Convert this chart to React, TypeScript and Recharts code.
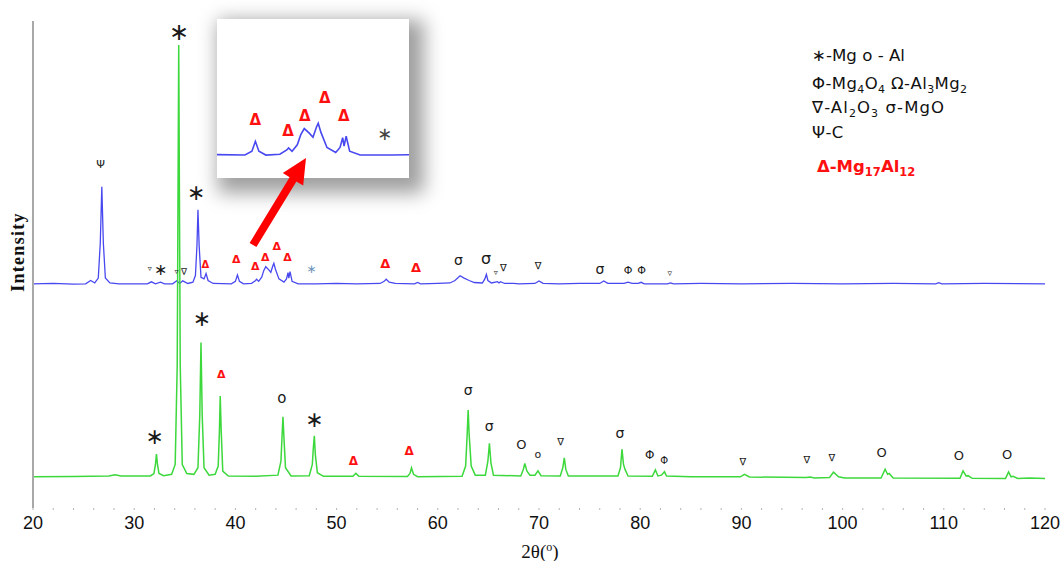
import React from 'react';
import { ComposedChart, Line, Scatter, XAxis, YAxis } from 'recharts';

// 2θ / intensity pairs (blue trace is offset upward)
const blueTrace: [number, number][] = [
  [20, 13.0], [22, 13.02], [24, 12.98], [25.2, 13.0], [25.7, 13.2], [26.1, 13.05], [26.45, 13.35],
  [26.65, 15.5], [26.8, 18.9], [26.95, 15.5], [27.15, 13.35], [27.6, 13.05], [28.5, 13.0], [30, 13.0],
  [31.3, 13.0], [31.7, 13.12], [32.1, 13.0], [32.6, 13.1], [33.0, 13.0], [33.8, 13.0], [34.2, 13.18],
  [34.5, 13.02], [34.8, 13.18], [35.3, 13.02], [35.8, 13.1], [36.05, 13.5], [36.2, 15.3], [36.3, 17.5],
  [36.42, 15.3], [36.6, 13.4], [36.9, 13.3], [37.1, 13.62], [37.3, 13.2], [37.8, 13.02], [39.6, 13.0],
  [40.0, 13.15], [40.2, 13.54], [40.4, 13.15], [40.8, 13.0], [41.6, 13.03], [42.0, 13.2], [42.1, 13.28],
  [42.3, 13.15], [42.6, 13.4], [42.8, 13.8], [43.0, 14.04], [43.3, 13.85], [43.5, 13.7], [43.7, 14.1],
  [43.8, 14.25], [43.95, 13.9], [44.3, 13.3], [44.8, 13.1], [45.05, 13.3], [45.2, 13.68], [45.28, 13.35],
  [45.4, 13.74], [45.6, 13.15], [46.2, 13.0], [48, 13.0], [50, 13.02], [52, 13.0], [54.3, 13.02],
  [54.7, 13.15], [54.9, 13.28], [55.2, 13.1], [55.8, 13.02], [57.7, 13.0], [58.0, 13.08], [58.3, 13.0],
  [60, 13.02], [61.2, 13.05], [61.7, 13.2], [62.2, 13.49], [62.6, 13.35], [63.1, 13.2], [63.6, 13.08],
  [64.4, 13.05], [64.65, 13.3], [64.8, 13.58], [64.95, 13.2], [65.3, 13.05], [65.9, 13.13], [66.05, 13.05],
  [66.2, 13.13], [66.6, 13.02], [67.5, 13.03], [68, 13.0], [69.6, 13.02], [70.0, 13.17], [70.4, 13.03],
  [72, 13.0], [74, 13.02], [76.0, 13.02], [76.4, 13.17], [76.8, 13.03], [78.4, 13.03], [78.8, 13.1],
  [79.2, 13.03], [79.8, 13.02], [80.1, 13.09], [80.4, 13.0], [82.7, 13.0], [83.0, 13.06], [83.3, 13.0],
  [86, 13.02], [90, 13.0], [95, 13.02], [100, 13.0], [105, 13.02], [109.2, 13.0], [109.5, 13.07],
  [109.8, 13.0], [114, 13.02], [120, 13.0],
];

const greenTrace: [number, number][] = [
  [20, 1.25], [24, 1.27], [27.5, 1.3], [28.1, 1.38], [28.7, 1.3], [31.6, 1.3], [31.95, 1.45], [32.1, 2.0],
  [32.2, 2.64], [32.3, 2.0], [32.45, 1.45], [32.9, 1.32], [33.7, 1.4], [34.05, 2.0], [34.25, 8.0],
  [34.4, 27.54], [34.55, 8.0], [34.75, 2.0], [35.2, 1.45], [35.9, 1.4], [36.3, 1.8], [36.48, 5.0],
  [36.6, 9.42], [36.72, 5.0], [36.9, 1.8], [37.4, 1.35], [38.0, 1.4], [38.3, 1.9], [38.42, 4.0],
  [38.5, 6.17], [38.6, 4.0], [38.75, 1.6], [39.3, 1.3], [42, 1.28], [44.2, 1.35], [44.5, 2.2],
  [44.6, 3.6], [44.7, 4.91], [44.8, 3.6], [44.95, 1.8], [45.5, 1.3], [47.3, 1.32], [47.6, 2.0],
  [47.7, 3.0], [47.8, 3.75], [47.9, 2.6], [48.1, 1.5], [48.7, 1.28], [51.6, 1.28], [51.9, 1.46],
  [52.2, 1.28], [57.0, 1.27], [57.25, 1.45], [57.4, 1.79], [57.6, 1.4], [58.0, 1.26], [62.4, 1.28],
  [62.75, 1.9], [62.9, 3.8], [63.0, 5.32], [63.1, 3.8], [63.3, 1.9], [63.7, 1.35], [64.7, 1.35],
  [64.95, 2.2], [65.1, 3.29], [65.25, 2.1], [65.5, 1.35], [68.2, 1.3], [68.45, 1.7], [68.6, 2.07],
  [68.8, 1.6], [69.1, 1.35], [69.6, 1.35], [69.9, 1.61], [70.2, 1.32], [72.1, 1.3], [72.35, 1.8],
  [72.5, 2.41], [72.65, 1.7], [72.9, 1.3], [76.2, 1.3], [77.8, 1.3], [78.05, 1.8], [78.2, 2.93],
  [78.35, 2.0], [78.5, 1.7], [78.8, 1.3], [81.2, 1.28], [81.5, 1.67], [81.75, 1.3], [82.1, 1.35],
  [82.4, 1.56], [82.6, 1.3], [85, 1.25], [89.9, 1.25], [90.3, 1.4], [90.8, 1.24], [96.4, 1.2],
  [96.8, 1.24], [97.2, 1.18], [98.7, 1.2], [99.1, 1.53], [99.6, 1.25], [100.2, 1.18], [103.8, 1.18],
  [104.2, 1.71], [104.45, 1.4], [104.6, 1.45], [105, 1.18], [111.6, 1.16], [111.9, 1.61], [112.2, 1.3],
  [112.4, 1.32], [112.8, 1.16], [116.1, 1.15], [116.4, 1.54], [116.65, 1.25], [116.85, 1.28],
  [117.3, 1.15], [118.5, 1.18], [120, 1.15],
];

// peak labels: [2θ, height, symbol, font size, colour]
type Mark = [number, number, string, number, string];
const K = '#1a1a1a';
const R = '#ff1010';

const blueMarks: Mark[] = [
  [26.68, 20.28, 'Ψ', 11, K], [31.54, 13.95, '▿', 8, K], [32.62, 13.89, '∗', 16, K],
  [34.17, 13.74, '▿', 8, K], [34.92, 13.74, '∇', 9, K], [36.14, 18.55, '∗', 22, K],
  [37.03, 14.19, 'Δ', 10, R], [40.09, 14.45, 'Δ', 11, R], [41.96, 14.04, 'Δ', 11, R],
  [42.95, 14.59, 'Δ', 11, R], [44.09, 15.26, 'Δ', 11, R], [45.15, 14.59, 'Δ', 11, R],
  [47.49, 13.9, '∗', 12, '#6c93b8'], [54.81, 14.25, 'Δ', 13, R], [57.84, 13.98, 'Δ', 13, R],
  [62.04, 14.45, 'σ', 14, K], [64.77, 14.55, 'σ', 16, K], [65.73, 13.68, '▿', 8, K],
  [66.48, 13.98, '∇', 10, K], [69.9, 14.09, '∇', 10, K], [76.02, 13.9, 'σ', 14, K],
  [78.81, 13.8, 'Φ', 11, K], [80.13, 13.8, 'Φ', 11, K], [82.92, 13.64, '▿', 9, K],
];

const greenMarks: Mark[] = [
  [32.03, 3.69, '∗', 22, K], [34.43, 28.35, '∗', 24, K], [36.7, 10.86, '∗', 22, K],
  [38.61, 7.45, 'Δ', 11, R], [44.59, 6.03, 'o', 15, K], [47.81, 4.71, '∗', 22, K],
  [51.66, 2.23, 'Δ', 12, R], [57.18, 2.84, 'Δ', 12, R], [63.0, 6.54, 'σ', 14, K],
  [65.07, 4.36, 'σ', 14, K], [68.25, 3.19, 'O', 13, K], [69.9, 2.58, 'o', 11, K],
  [72.14, 3.39, '∇', 10, K], [77.99, 3.94, 'σ', 14, K], [80.95, 2.58, 'Φ', 12, K],
  [82.36, 2.23, 'Φ', 10, K], [90.15, 2.21, '∇', 10, K], [96.46, 2.28, '∇', 10, K],
  [98.93, 2.44, '∇', 10, K], [103.86, 2.72, 'O', 13, K], [111.49, 2.52, 'O', 13, K],
  [116.25, 2.6, 'O', 13, K],
];

const insetMarks: Mark[] = [
  [40.19, 14.39, 'Δ', 15, R], [42.07, 13.93, 'Δ', 15, R], [43.03, 14.55, 'Δ', 15, R],
  [44.18, 15.24, 'Δ', 15, R], [45.27, 14.52, 'Δ', 15, R], [47.61, 13.84, '∗', 18, '#444'],
];

const xTicks = [20, 22, 24, 26, 28, 30, 32, 34, 36, 38, 40, 42, 44, 46, 48, 50, 52, 54, 56, 58, 60,
  62, 64, 66, 68, 70, 72, 74, 76, 78, 80, 82, 84, 86, 88, 90, 92, 94, 96, 98, 100, 102, 104, 106, 108,
  110, 112, 114, 116, 118, 120];
const yTicks = [0, 1, 2, 4, 5, 9, 10, 12, 13, 17, 18, 21, 22, 25, 28, 29];

const toPts = (arr: [number, number][]) => arr.map(([x, y]) => ({ x, y }));
const toMarks = (arr: Mark[]) => arr.map(([x, y, s, f, c]) => ({ x, y, s, f, c }));

const SANS = '"DejaVu Sans", Verdana, sans-serif';
const SERIF = '"Liberation Serif", "Times New Roman", serif';

const MarkShape = (props: any) => {
  const { cx, cy, payload } = props;
  const bold = payload.s === 'Δ';
  return (
    <text x={cx} y={cy} textAnchor="middle" dominantBaseline="central" fontSize={payload.f}
      fontWeight={bold ? 'bold' : 'normal'} fill={payload.c} fontFamily={SANS}>
      {payload.s}
    </text>
  );
};

const XTick = (props: any) => {
  const { x, y, payload } = props;
  const v = payload.value;
  return (
    <g>
      <rect x={x - 0.5} y={y} width={1} height={2} fill="#b5b5b5" />
      {v % 10 === 0 && (
        <text x={x} y={y + 21} textAnchor="middle" fontSize={18} fill="#111"
          fontFamily='"Liberation Sans", Arial, sans-serif'>{v}</text>
      )}
    </g>
  );
};

export default function App() {
  const blue = toPts(blueTrace);
  const green = toPts(greenTrace);

  return (
    <div style={{ position: 'absolute', left: 0, top: 0, width: 1062, height: 561, background: '#fff' }}>
      <ComposedChart width={1062} height={561} margin={{ top: 21, right: 17, bottom: 23, left: 32 }}>
        <XAxis dataKey="x" type="number" domain={[20, 120]} ticks={xTicks} interval={0}
          axisLine={false} tickLine={false} tickSize={0} tickMargin={0} height={30} tick={<XTick />} />
        <YAxis type="number" domain={[-0.65, 29]} allowDataOverflow ticks={yTicks} width={1}
          tick={false} tickSize={3} tickLine={{ stroke: '#8a8a8a' }}
          axisLine={{ stroke: '#a8a8a8', strokeWidth: 2 }} />
        <Line data={blue} dataKey="y" stroke="#4848f0" strokeWidth={1.3} dot={false}
          isAnimationActive={false} />
        <Line data={green} dataKey="y" stroke="#3cd83c" strokeWidth={1.5} dot={false}
          isAnimationActive={false} />
        <Scatter data={toMarks(blueMarks)} dataKey="y" shape={<MarkShape />} isAnimationActive={false} />
        <Scatter data={toMarks(greenMarks)} dataKey="y" shape={<MarkShape />} isAnimationActive={false} />
      </ComposedChart>

      {/* zoomed inset of the blue trace */}
      <div style={{ position: 'absolute', left: 217, top: 19, width: 192, height: 159, background: '#fff',
        boxShadow: '8px 8px 18px 7px rgba(0,0,0,0.38)' }}>
        <ComposedChart width={192} height={159} margin={{ top: 0, right: 0, bottom: 0, left: 0 }}>
          <XAxis dataKey="x" type="number" domain={[38, 49]} allowDataOverflow hide />
          <YAxis type="number" domain={[12.1, 18.34]} allowDataOverflow hide />
          <Line data={blue} dataKey="y" stroke="#4848f0" strokeWidth={1.6} dot={false}
            isAnimationActive={false} />
          <Scatter data={toMarks(insetMarks)} dataKey="y" shape={<MarkShape />} isAnimationActive={false} />
        </ComposedChart>
      </div>

      <svg width={1062} height={561} style={{ position: 'absolute', left: 0, top: 0, pointerEvents: 'none' }}>
        <polygon fill="#ff0000"
          points="249.6,242.9 289.6,177.3 282.8,173.1 306,158 303.2,185.6 296.4,181.4 256.4,247.1" />
        <text transform="translate(24,252) rotate(-90)" textAnchor="middle" fontSize={18}
          fontWeight="bold" letterSpacing={1.3} fontFamily={SERIF} fill="#111">Intensity</text>
        <text x={540} y={558} textAnchor="middle" fontSize={19} fontFamily={SERIF} fill="#111">
          2θ(<tspan fontSize={12} dy={-7}>o</tspan><tspan dy={7}>)</tspan>
        </text>
        <g fontFamily={SANS} fontSize={16.5} fill="#111">
          <text x={812} y={61} textLength={93} lengthAdjust="spacingAndGlyphs">∗-Mg o - Al</text>
          <text x={812} y={89} letterSpacing={0.4}>Φ-Mg<tspan fontSize={11} dy={4}>4</tspan><tspan dy={-4}>O</tspan>
            <tspan fontSize={11} dy={4}>4</tspan><tspan dy={-4}> Ω-Al</tspan>
            <tspan fontSize={11} dy={4}>3</tspan><tspan dy={-4}>Mg</tspan>
            <tspan fontSize={11} dy={4}>2</tspan></text>
          <text x={812} y={113} letterSpacing={1.1}>∇-Al<tspan fontSize={11} dy={4}>2</tspan><tspan dy={-4}>O</tspan>
            <tspan fontSize={11} dy={4}>3</tspan><tspan dy={-4}> σ-MgO</tspan></text>
          <text x={812} y={138} letterSpacing={0.4}>Ψ-C</text>
          <text x={817} y={172} fill="#ff1010" fontWeight="bold" fontSize={16.5}>Δ-Mg
            <tspan fontSize={11.5} dy={4}>17</tspan><tspan dy={-4}>Al</tspan>
            <tspan fontSize={11.5} dy={4}>12</tspan></text>
        </g>
      </svg>
    </div>
  );
}
